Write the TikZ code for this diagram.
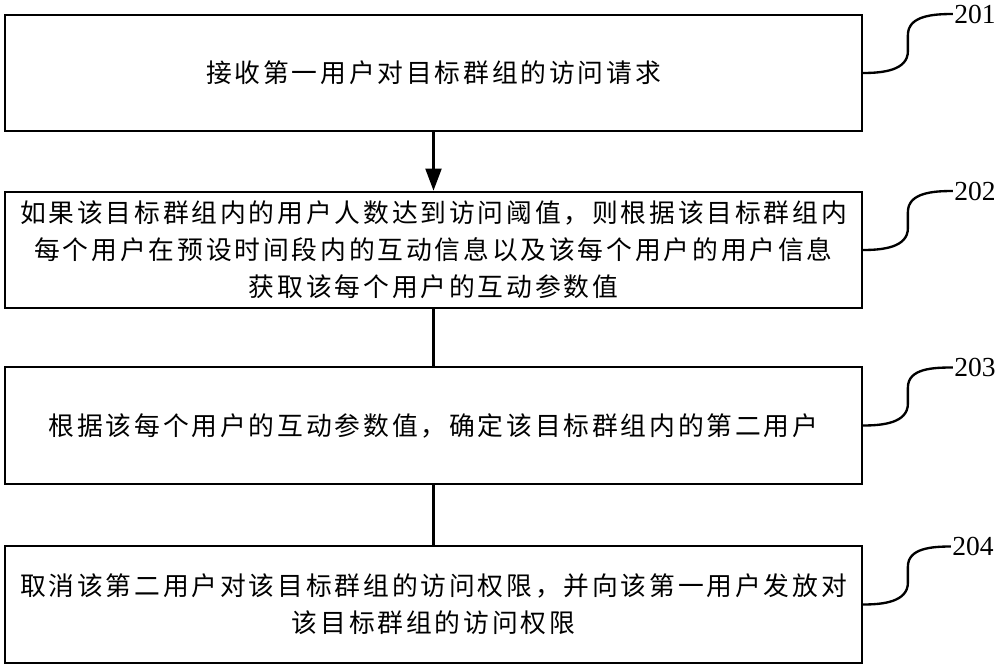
\documentclass[tikz,border=0pt]{standalone}
\usepackage{fontspec}
\setmainfont{Liberation Serif}
\newfontfamily\cjk{Noto Sans CJK SC}[LetterSpace=11]
\usetikzlibrary{arrows.meta}

\begin{document}
\begin{tikzpicture}[x=0.03cm, y=-0.03cm,
    stepbox/.style={draw, line width=1.8pt, minimum width=25.7cm, minimum height=3.5cm, inner sep=0pt,
      align=center, font=\cjk\fontsize{22}{31.5}\selectfont},
    num/.style={anchor=west, inner sep=1pt, font=\fontsize{23.5}{23.5}\selectfont},
    lead/.style={line width=2pt}]
  \useasboundingbox (0,0) rectangle (1000,669);
  % steps
  \node[stepbox] (s1) at (433.5,73) {接收第一用户对目标群组的访问请求};
  \node[stepbox] (s2) at (433.5,250) {如果该目标群组内的用户人数达到访问阈值，则根据该目标群组内\\每个用户在预设时间段内的互动信息以及该每个用户的用户信息\\获取该每个用户的互动参数值};
  \node[stepbox] (s3) at (433.5,425.5) {根据该每个用户的互动参数值，确定该目标群组内的第二用户};
  \node[stepbox] (s4) at (433.5,604.5) {取消该第二用户对该目标群组的访问权限，并向该第一用户发放对\\该目标群组的访问权限};
  \draw[line width=1.8pt, -{Triangle[length=0.66cm, width=0.48cm]}] (s1) -- (s2);
  \draw[line width=1.8pt] (s2) -- (s3);
  \draw[line width=1.8pt] (s3) -- (s4);
  % step numbers
  \node[num] (n1) at ([shift={(90,-59)}]s1.east) {201};
  \node[num] (n2) at ([shift={(90,-59)}]s2.east) {202};
  \node[num] (n3) at ([shift={(90,-58)}]s3.east) {203};
  \node[num] (n4) at ([shift={(88,-58)}]s4.east) {204};
  \draw[lead] (s1.east) to[out=0, in=-90] ++(45,-22) -- ++(0,-16) to[out=90, in=180] (n1.west);
  \draw[lead] (s2.east) to[out=0, in=-90] ++(45,-22) -- ++(0,-16) to[out=90, in=180] (n2.west);
  \draw[lead] (s3.east) to[out=0, in=-90] ++(45,-22) -- ++(0,-16) to[out=90, in=180] (n3.west);
  \draw[lead] (s4.east) to[out=0, in=-90] ++(45,-22) -- ++(0,-16) to[out=90, in=180] (n4.west);
\end{tikzpicture}
\end{document}
